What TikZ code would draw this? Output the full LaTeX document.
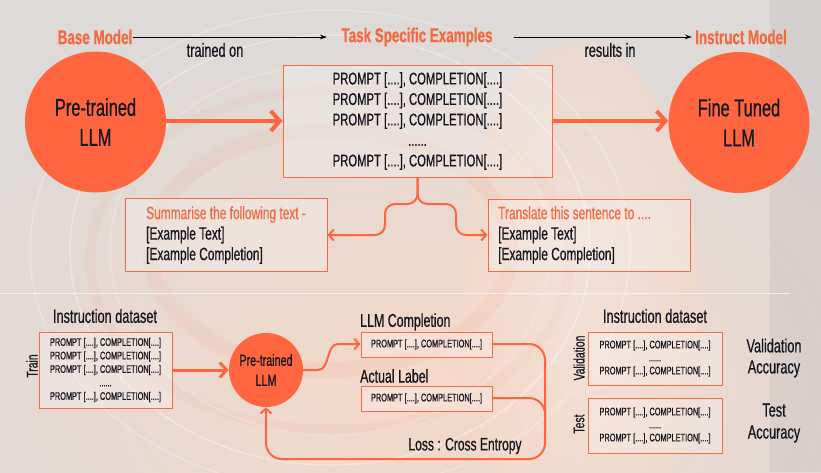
\documentclass[tikz,border=0pt]{standalone}
\usepackage{fontspec}
\setmainfont{Liberation Sans}[FakeStretch=0.67, FakeBold=0.6]
\usetikzlibrary{arrows.meta,calc}
\definecolor{orng}{HTML}{FF6640}
\definecolor{ohead}{HTML}{F26A42}
\definecolor{obox}{HTML}{F36B47}
\definecolor{bgc}{HTML}{DDDAD8}
\definecolor{peach}{HTML}{F5D8C8}
\definecolor{pale}{HTML}{F8E9E1}
\definecolor{txt}{HTML}{16161F}
\begin{document}
\begin{tikzpicture}[x=1pt,y=-1pt,
  headtxt/.style={text=ohead, font=\fontsize{20}{22}\selectfont\bfseries, inner sep=0},
  lbl/.style={text=txt, font=\fontsize{19}{22}\selectfont, inner sep=0},
  bigcirc/.style={circle, fill=orng, minimum size=141pt, inner sep=0, align=center, text=txt, font=\fontsize{24.5}{30}\selectfont},
  smallcirc/.style={circle, fill=orng, minimum size=74pt, inner sep=0, align=center, text=txt, font=\fontsize{16}{20}\selectfont},
  boxframe/.style={draw=obox, line width=1pt, fill=white, fill opacity=0.25, text opacity=1, inner sep=0, align=center, text=txt},
  blackarrow/.style={draw=black, line width=0.9pt, -{Stealth[length=7pt,width=4.5pt]}},
  thickarrow/.style={draw=orng, line width=4pt, -{Straight Barb[length=9pt,width=20pt,line width=4pt]}},
  midarrow/.style={draw=orng, line width=3pt, -{Straight Barb[length=7pt,width=15pt,line width=3pt]}},
  flow/.style={draw=orng, line width=2pt, -{Straight Barb[length=5pt,width=11pt,line width=2pt]}},
  flownotip/.style={draw=orng, line width=2pt},
  rotlbl/.style={text=txt, font=\fontsize{15.5}{16}\selectfont, rotate=90, inner sep=0}
]
% ---------- background ----------
\useasboundingbox (0,0) rectangle (821,472);
\fill[bgc] (0,0) rectangle (821,472);
\begin{scope}
\clip (0,0) rectangle (821,472);
\shade[inner color=peach, outer color=bgc] (420,380) ellipse [x radius=560pt, y radius=360pt];
\shade[inner color=pale, outer color=peach, opacity=0.5] (580,300) ellipse [x radius=120pt, y radius=260pt];
\draw[white, opacity=0.35, line width=1.2pt] (330,250) ellipse [x radius=260pt, y radius=215pt];
\draw[white, opacity=0.3, line width=1pt] (330,250) ellipse [x radius=300pt, y radius=240pt];
\draw[white, opacity=0.25, line width=1pt] (330,250) ellipse [x radius=220pt, y radius=185pt];
\draw[orng, opacity=0.05, line width=16pt] (330,250) ellipse [x radius=180pt, y radius=120pt];
\draw[orng, opacity=0.04, line width=10pt] (330,260) ellipse [x radius=240pt, y radius=170pt];
\fill[gray, opacity=0.10] (770,0) rectangle (821,472);
\end{scope}
\draw[white!88!gray, line width=0.8pt] (0,293) -- (790,293);

% ---------- top row ----------
\node[headtxt] (base) at (95,37) {Base Model};
\node[headtxt] (task) at (417,37) {Task Specific Examples};
\node[headtxt] (inst) at (741,37) {Instruct Model};
\coordinate (a1s) at (133,37);
\coordinate (a1e) at (327,37);
\coordinate (a2s) at (514,37);
\coordinate (a2e) at (692,37);
\draw[blackarrow] (a1s) -- (a1e);
\draw[blackarrow] (a2s) -- (a2e);
\node[lbl] (trained) at (215,50) {trained on};
\node[lbl] (results) at (610,50) {results in};

\node[bigcirc] (pre) at (95.5,122) {Pre-trained\\LLM};
\node[bigcirc] (fine) at (739,122.5) {Fine Tuned\\LLM};

\node[boxframe, minimum width=269pt, minimum height=112pt,
      font=\fontsize{16.8}{20.5}\selectfont] (tbox) at (417.5,121)
  {PROMPT [....], COMPLETION[....]\\PROMPT [....], COMPLETION[....]\\PROMPT [....], COMPLETION[....]\\......\\PROMPT [....], COMPLETION[....]};

\draw[thickarrow] (pre.east |- 0,121) -- (tbox.west |- 0,121);
\draw[thickarrow] (tbox.east |- 0,121) -- (fine.west |- 0,121);

% example boxes
\node[boxframe, minimum width=202pt, minimum height=73pt] (sumbox) at (226,234.5) {};
\node[boxframe, minimum width=202pt, minimum height=72pt] (trbox) at (589,235) {};
\node[anchor=west, align=left, inner sep=0, font=\fontsize{17.8}{20.5}\selectfont, text=txt] (sumtxt) at (146,235)
  {\textcolor{ohead}{Summarise the following text -}\\{}[Example Text]\\{}[Example Completion]};
\node[anchor=west, align=left, inner sep=0, font=\fontsize{17.8}{20.5}\selectfont, text=txt] (trtxt) at (498,235)
  {\textcolor{ohead}{Translate this sentence to ....}\\{}[Example Text]\\{}[Example Completion]};

\coordinate (bl1) at (417.5,204);
\coordinate (bl2) at (385,204);
\coordinate (bl3) at (385,235);
\coordinate (br2) at (456,204);
\coordinate (br3) at (456,235);
\draw[flow, rounded corners=10pt] (tbox.south) -- (bl1) -- (bl2) -- (bl3) -- (sumbox.east |- bl3);
\draw[flow, rounded corners=10pt] (tbox.south) -- (bl1) -- (br2) -- (br3) -- (trbox.west |- br3);

% ---------- bottom row ----------
\node[lbl] (ids1) at (105,316) {Instruction dataset};
\node[boxframe, minimum width=133pt, minimum height=76pt, font=\fontsize{11}{13.5}\selectfont] (trainbox) at (105.5,370)
  {PROMPT [....], COMPLETION[....]\\PROMPT [....], COMPLETION[....]\\PROMPT [....], COMPLETION[....]\\......\\PROMPT [....], COMPLETION[....]};
\node[rotlbl] (trainlbl) at (32,366) {Train};

\node[smallcirc] (pre2) at (266,370) {Pre-trained\\LLM};
\draw[midarrow] (trainbox.east) -- (pre2.west);

\node[lbl, anchor=west, font=\fontsize{18.5}{20}\selectfont] (llmc) at (360,322) {LLM Completion};
\node[boxframe, minimum width=131pt, minimum height=25pt, font=\fontsize{11}{12}\selectfont] (comp) at (426.5,344.5) {PROMPT [....], COMPLETION[....]};
\node[lbl, anchor=west, font=\fontsize{18.5}{20}\selectfont] (actl) at (360,376) {Actual Label};
\node[boxframe, minimum width=131pt, minimum height=25pt, font=\fontsize{11}{12}\selectfont] (act) at (426.5,398.5) {PROMPT [....], COMPLETION[....]};

\coordinate (c1) at (318,370);
\coordinate (c2) at (338,344);
\draw[flow] (pre2.east) -- (c1) .. controls (330,370) and (326,344) .. (c2) -- (comp.west |- c2);

\coordinate (l1) at (545,344);
\coordinate (l2) at (545,459);
\coordinate (l3) at (266,459);
\draw[flow, rounded corners=16pt] (comp.east |- l1) -- (l1) -- (l2) -- (l3) -- (pre2.south);
\coordinate (m1) at (545,398);
\coordinate (m2) at (545,430);
\draw[flownotip, rounded corners=16pt] (act.east |- m1) -- (m1) -- (m2);
\node[lbl, font=\fontsize{18}{20}\selectfont] (loss) at (465,446) {Loss : Cross Entropy};

\node[lbl] (ids2) at (655,316) {Instruction dataset};
\node[boxframe, minimum width=134pt, minimum height=53pt, font=\fontsize{11}{13}\selectfont] (valbox) at (655,358.5)
  {PROMPT [....], COMPLETION[....]\\......\\PROMPT [....], COMPLETION[....]};
\node[boxframe, minimum width=134pt, minimum height=55pt, font=\fontsize{11}{13}\selectfont] (testbox) at (655,425.5)
  {PROMPT [....], COMPLETION[....]\\......\\PROMPT [....], COMPLETION[....]};
\node[rotlbl] (vallbl) at (579,358) {Validation};
\node[rotlbl] (testlbl) at (579,424) {Test};
\node[lbl, align=center, font=\fontsize{19}{21}\selectfont] (vacc) at (774,358) {Validation\\Accuracy};
\node[lbl, align=center, font=\fontsize{19}{22}\selectfont] (tacc) at (774,423) {Test\\Accuracy};
\end{tikzpicture}
\end{document}
